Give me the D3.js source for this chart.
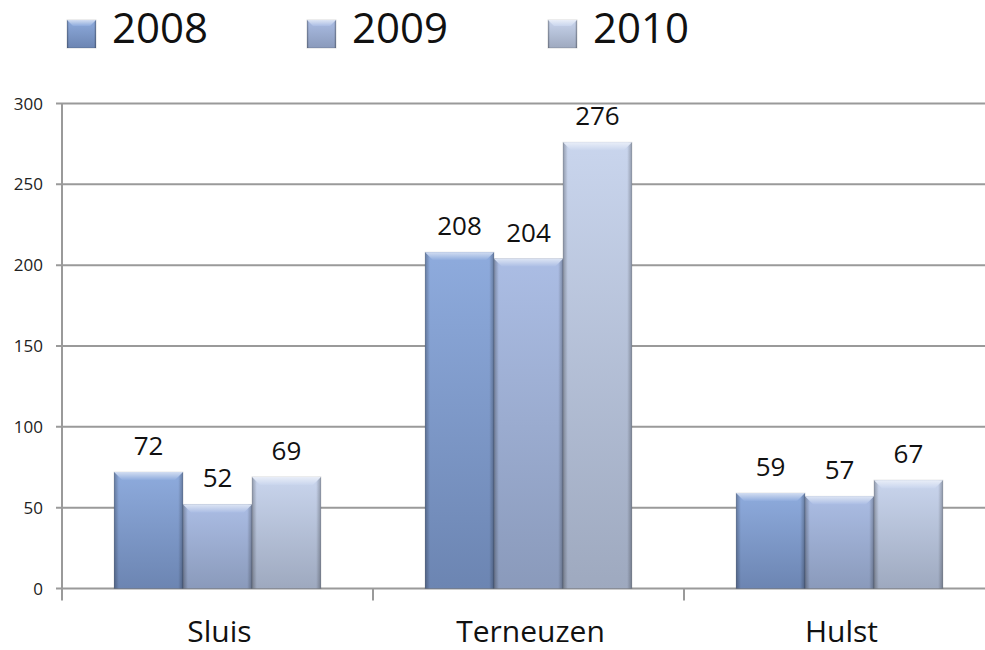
<!DOCTYPE html>
<html>
<head>
<meta charset="utf-8">
<title>Sluis, Terneuzen, Hulst</title>
<script src="https://cdn.jsdelivr.net/npm/d3@7"></script>
<style>
  body { margin: 0; background: #fff; }
  svg { display: block; font-family: "Open Sans", sans-serif; }
</style>
</head>
<body>
<script>
// data
var categories = ["Sluis", "Terneuzen", "Hulst"];
var years = ["2008", "2009", "2010"];
var values2008 = [72, 208, 59];
var values2009 = [52, 204, 57];
var values2010 = [69, 276, 67];
var yTicks = [0, 50, 100, 150, 200, 250, 300];

var seriesValues = [values2008, values2009, values2010];
// kleur boven / onder per reeks
var topColor = ["#8eabdd", "#abbde4", "#c9d5ed"];
var bottomColor = ["#6c85b2", "#8a9abb", "#9ea9bf"];

var width = 985, height = 650;
var svg = d3.select("body").append("svg")
    .attr("width", width)
    .attr("height", height);

var defs = svg.append("defs");
years.forEach(function(y, i) {
  var g = defs.append("linearGradient").attr("id", "fill" + i)
      .attr("x1", 0).attr("y1", 0).attr("x2", 0).attr("y2", 1);
  g.append("stop").attr("offset", "0%").attr("stop-color", topColor[i]);
  g.append("stop").attr("offset", "100%").attr("stop-color", bottomColor[i]);

  var b = defs.append("linearGradient").attr("id", "bevel" + i)
      .attr("x1", 0).attr("y1", 0).attr("x2", 0).attr("y2", 1);
  b.append("stop").attr("offset", "0%").attr("stop-color", d3.interpolateRgb(topColor[i], "#fff")(0.6));
  b.append("stop").attr("offset", "100%").attr("stop-color", topColor[i]);
});
var edge = defs.append("linearGradient").attr("id", "edge")
    .attr("x1", 0).attr("y1", 0).attr("x2", 1).attr("y2", 0);
edge.append("stop").attr("offset", "0%").attr("stop-color", "#000").attr("stop-opacity", 0.28);
edge.append("stop").attr("offset", "7%").attr("stop-color", "#000").attr("stop-opacity", 0);
edge.append("stop").attr("offset", "93%").attr("stop-color", "#000").attr("stop-opacity", 0);
edge.append("stop").attr("offset", "100%").attr("stop-color", "#000").attr("stop-opacity", 0.28);

var plotLeft = 62, plotRight = 995, plotTop = 103.5, plotBottom = 588.5;

var x0 = d3.scaleBand().domain(categories).range([plotLeft, plotRight]).padding(0);
var x1 = d3.scaleBand().domain(years).range([0, x0.bandwidth()])
    .paddingInner(0).paddingOuter(0.755);
var y = d3.scaleLinear().domain([0, 300]).range([plotBottom, plotTop]);

// rasterlijnen
svg.append("g").selectAll("line").data(yTicks).enter().append("line")
    .attr("x1", plotLeft - 6).attr("x2", plotRight)
    .attr("y1", function(d) { return y(d); })
    .attr("y2", function(d) { return y(d); })
    .attr("stroke", "#9a9a9a").attr("stroke-width", 2);

svg.append("g").selectAll("text").data(yTicks).enter().append("text")
    .attr("x", 43)
    .attr("y", function(d) { return y(d); })
    .attr("dy", "0.36em")
    .attr("text-anchor", "end")
    .attr("font-size", 17)
    .attr("fill", "#222")
    .text(function(d) { return d; });

// balken
var groups = svg.append("g").selectAll("g").data(categories).enter().append("g")
    .attr("transform", function(c) { return "translate(" + x0(c) + ",0)"; });

var bars = groups.selectAll("g.bar")
    .data(function(c, ci) {
      return years.map(function(yr, si) { return {cat: c, year: yr, s: si, v: seriesValues[si][ci]}; });
    })
    .enter().append("g").attr("class", "bar");

var bw = x1.bandwidth(), bev = 8;

bars.append("rect")
    .attr("x", function(d) { return x1(d.year); })
    .attr("y", function(d) { return y(d.v); })
    .attr("width", bw)
    .attr("height", function(d) { return y(0) - y(d.v); })
    .attr("fill", function(d) { return "url(#fill" + d.s + ")"; });

bars.append("rect")
    .attr("x", function(d) { return x1(d.year); })
    .attr("y", function(d) { return y(d.v); })
    .attr("width", bw)
    .attr("height", function(d) { return y(0) - y(d.v); })
    .attr("fill", "url(#edge)")
    .attr("stroke", "rgba(0,0,0,0.12)");

bars.append("path")
    .attr("d", function(d) {
      var xa = x1(d.year), yt = y(d.v);
      return "M" + xa + "," + yt + "L" + (xa + bw) + "," + yt +
        "L" + (xa + bw - bev) + "," + (yt + bev) + "L" + (xa + bev) + "," + (yt + bev) + "Z";
    })
    .attr("fill", function(d) { return "url(#bevel" + d.s + ")"; });

bars.append("text")
    .attr("x", function(d) { return x1(d.year) + bw / 2; })
    .attr("y", function(d) { return y(d.v) - 17; })
    .attr("text-anchor", "middle")
    .attr("font-size", 26)
    .attr("fill", "#111")
    .text(function(d) { return d.v; });

// assen
svg.append("line")
    .attr("x1", plotLeft).attr("x2", plotLeft)
    .attr("y1", plotTop).attr("y2", plotBottom + 12)
    .attr("stroke", "#9a9a9a").attr("stroke-width", 2);
svg.append("g").selectAll("line").data(categories.slice(1)).enter().append("line")
    .attr("x1", function(c) { return x0(c); })
    .attr("x2", function(c) { return x0(c); })
    .attr("y1", plotBottom).attr("y2", plotBottom + 12)
    .attr("stroke", "#9a9a9a").attr("stroke-width", 2);

svg.append("g").selectAll("text").data(categories).enter().append("text")
    .attr("x", function(c) { return x0(c) + x0.bandwidth() / 2 + 2; })
    .attr("y", 642)
    .attr("text-anchor", "middle")
    .attr("font-size", 30)
    .attr("fill", "#111")
    .text(function(c) { return c; });

// legenda
var legendX = [67, 307, 548];
var legend = svg.append("g").selectAll("g").data(years).enter().append("g")
    .attr("transform", function(d, i) { return "translate(" + legendX[i] + ",20)"; });
legend.append("rect")
    .attr("width", 29).attr("height", 28)
    .attr("fill", function(d, i) { return "url(#fill" + i + ")"; });
legend.append("rect")
    .attr("width", 29).attr("height", 28)
    .attr("fill", "url(#edge)")
    .attr("stroke", "rgba(0,0,0,0.15)");
legend.append("path")
    .attr("d", "M0,0L29,0L23,6L6,6Z")
    .attr("fill", function(d, i) { return "url(#bevel" + i + ")"; });
legend.append("text")
    .attr("x", 45).attr("y", 23)
    .attr("font-size", 42)
    .attr("fill", "#111")
    .text(function(d) { return d; });
</script>
</body>
</html>
